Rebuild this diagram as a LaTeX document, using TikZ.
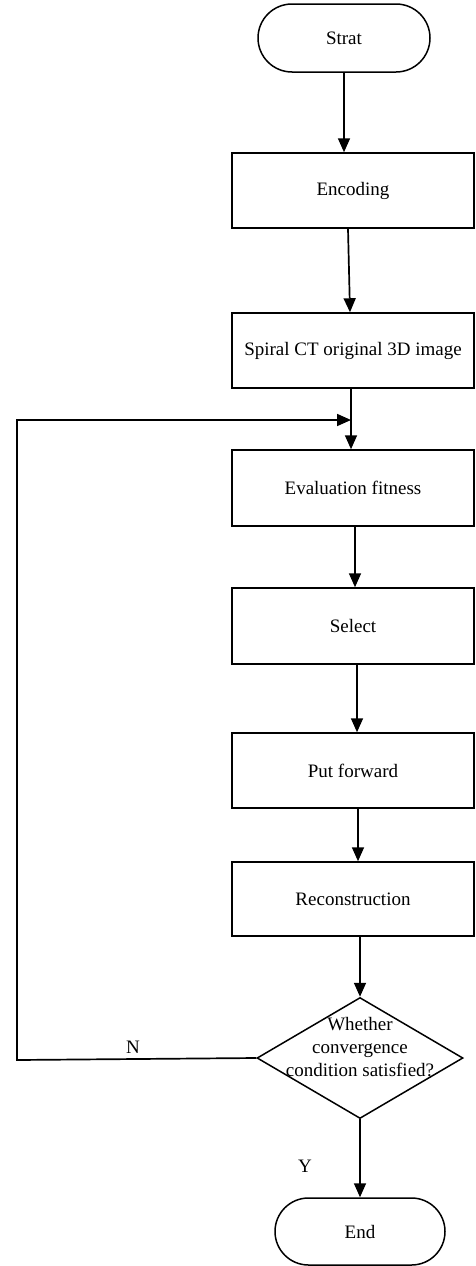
\documentclass[tikz,border=0pt]{standalone}
\usepackage{fontspec}
\setmainfont{Liberation Serif}
\usetikzlibrary{arrows.meta,shapes.misc,shapes.geometric}
\begin{document}
\begin{tikzpicture}[x=1pt,y=-1pt,
  every node/.style={font=\fontsize{19}{23}\selectfont},
  box/.style={draw,line width=1.5pt,rectangle,minimum width=242pt,inner sep=0pt},
  term/.style={draw,line width=1.5pt,rounded rectangle,inner sep=0pt},
  dec/.style={draw,line width=1.5pt,diamond,inner sep=0pt,minimum width=206pt,minimum height=121pt},
  arr/.style={line width=1.7pt,-{Triangle[length=14pt,width=12pt]}}]
\useasboundingbox (0,0) rectangle (475,1266);
\node[term,minimum width=172pt,minimum height=68pt] (start) at (344,38) {Strat};
\node[box,minimum height=75pt] (enc) at (353,190.5) {Encoding};
\node[box,minimum height=75pt] (spiral) at (353,350.5) {Spiral CT original 3D image};
\node[box,minimum height=76pt] (eval) at (353,488) {Evaluation fitness};
\node[box,minimum height=76pt] (select) at (353,626) {Select};
\node[box,minimum height=75pt] (put) at (353,770.5) {Put forward};
\node[box,minimum height=74pt] (recon) at (353,899) {Reconstruction};
\node[dec] (dia) at (360,1058) {};
\node[align=center] (dtext) at (360,1047) {Whether\\convergence\\condition satisfied?};
\node[term,minimum width=170pt,minimum height=67pt] (end) at (360,1231.5) {End};
\node (nlab) at (133,1047) {N};
\node (ylab) at (305,1166) {Y};
\coordinate (c1) at (17,1060);
\coordinate (c2) at (17,420);
\coordinate (j) at (351,420);
\draw[arr] (start.south) -- ([xshift=-9pt]enc.north);
\draw[arr] ([xshift=-5pt]enc.south) -- ([xshift=-3pt]spiral.north);
\draw[arr] ([xshift=-2pt]spiral.south) -- ([xshift=-2pt]eval.north);
\draw[arr] ([xshift=2pt]eval.south) -- ([xshift=2pt]select.north);
\draw[arr] ([xshift=4pt]select.south) -- ([xshift=4pt]put.north);
\draw[arr] ([xshift=5pt]put.south) -- ([xshift=5pt]recon.north);
\draw[arr] ([xshift=7pt]recon.south) -- (dia.north);
\draw[arr] (dia.south) -- (end.north);
\draw[arr] (dia.west) -- (c1) -- (c2) -- (j);
\end{tikzpicture}
\end{document}
